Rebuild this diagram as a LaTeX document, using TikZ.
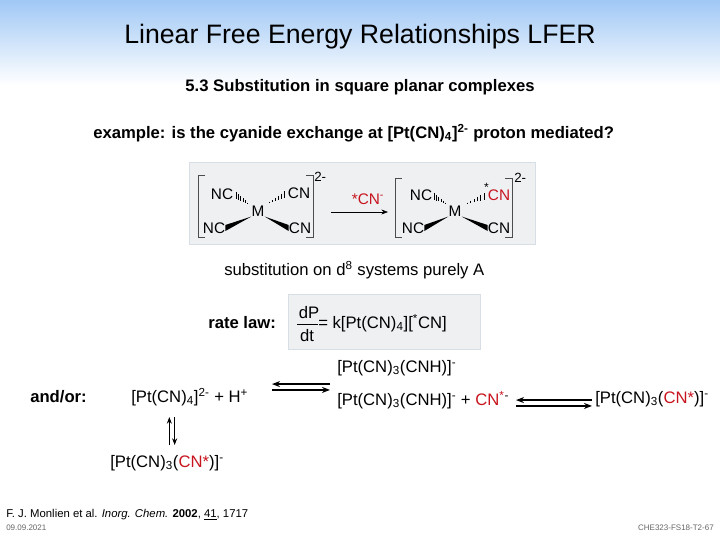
\documentclass[tikz,border=0pt]{standalone}
\usepackage{fontspec}
\setmainfont{Liberation Sans}
\usetikzlibrary{arrows.meta,calc}
\definecolor{topblue}{RGB}{160,200,245}
\definecolor{boxgray}{RGB}{238,240,242}
\definecolor{boxedge}{RGB}{215,222,230}
\definecolor{cnred}{RGB}{200,20,30}
\tikzset{
 txt/.style={inner sep=0pt,anchor=base west,font=\fontsize{12.5pt}{14pt}\selectfont},
 mol/.style={inner sep=0pt,font=\fontsize{11.5pt}{13pt}\selectfont},
 wedge/.style={fill=black},
 brk/.style={draw=black!70,line width=0.5pt},
 eq/.style={line width=1.3pt},
}
\begin{document}
\begin{tikzpicture}[x=0.75pt,y=-0.75pt]
\useasboundingbox (0,0) rectangle (720,540);
\fill[white] (0,0) rectangle (720,540);
\shade[top color=topblue,bottom color=white] (0,0) rectangle (720,85);
\node[inner sep=0pt,font=\fontsize{20pt}{22pt}\selectfont] (title) at (360,37) {Linear Free Energy Relationships LFER};
\node[inner sep=0pt,font=\bfseries\fontsize{12.5pt}{14pt}\selectfont] (sub) at (360,87) {5.3 Substitution in square planar complexes};
\node[txt,font=\bfseries\fontsize{12.5pt}{14pt}\selectfont] (ex) at (93,138) {example: is the cyanide exchange at [Pt(CN)\textsubscript{4}]\textsuperscript{2-} proton mediated?};
% molecule box
\node[fill=boxgray,draw=boxedge,minimum width=346pt*0.75,minimum height=82pt*0.75,inner sep=0pt] (molbox) at (362,203) {};
% left complex
\node[mol] (M1) at (258,211) {M};
\node[mol] (a1) at (222,194) {NC};
\node[mol] (b1) at (299,193) {CN};
\node[mol] (c1) at (214,228) {NC};
\node[mol] (d1) at (300,228) {CN};
\foreach \k in {0,...,6}{
 \draw[thin] ($(M1.north west)!{0.08+\k*0.13}!(a1.east)+(0,-{\k*0.55})$) -- ++(0,{\k*1.1});
 \draw[thin] ($(M1.north east)!{0.08+\k*0.13}!(b1.west)+(0,-{\k*0.55})$) -- ++(0,{\k*1.1});
}
\fill[wedge] (M1.south west) -- ($(c1.east)+(0,-3)$) -- ($(c1.east)+(0,3)$) -- cycle;
\fill[wedge] (M1.south east) -- ($(d1.west)+(0,-3)$) -- ($(d1.west)+(0,3)$) -- cycle;
\draw[brk] (205,175) -- (198,175) -- (198,237) -- (205,237);
\draw[brk] (306,175) -- (313,175) -- (313,237) -- (306,237);
\node[mol,anchor=west,font=\fontsize{10pt}{12pt}\selectfont] (ch1) at (314,177) {2-};
% arrow
\coordinate (ar1) at (331,212);
\coordinate (ar2) at (388,212);
\draw[-{Stealth[length=5pt]},thin] (ar1) -- (ar2);
\node[mol,text=cnred] (lab) at (368,199) {*CN\textsuperscript{-}};
% right complex
\node[mol] (M2) at (455,211) {M};
\node[mol] (a2) at (421,195) {NC};
\node[mol,text=cnred] (b2) at (499,195) {CN};
\node[mol,font=\fontsize{9pt}{10pt}\selectfont,anchor=south east] (st) at ([xshift=1pt,yshift=-2pt]b2.north west) {*};
\node[mol] (c2) at (413,228) {NC};
\node[mol] (d2) at (499,228) {CN};
\foreach \k in {0,...,6}{
 \draw[thin] ($(M2.north west)!{0.08+\k*0.13}!(a2.east)+(0,-{\k*0.55})$) -- ++(0,{\k*1.1});
 \draw[thin] ($(M2.north east)!{0.08+\k*0.13}!(b2.west)+(0,-{\k*0.55})$) -- ++(0,{\k*1.1});
}
\fill[wedge] (M2.south west) -- ($(c2.east)+(0,-3)$) -- ($(c2.east)+(0,3)$) -- cycle;
\fill[wedge] (M2.south east) -- ($(d2.west)+(0,-3)$) -- ($(d2.west)+(0,3)$) -- cycle;
\draw[brk] (402,178) -- (395,178) -- (395,237) -- (402,237);
\draw[brk] (505,178) -- (512,178) -- (512,237) -- (505,237);
\node[mol,anchor=west,font=\fontsize{10pt}{12pt}\selectfont] (ch2) at (514,178) {2-};
\node[txt] (subst) at (224,275) {substitution on d\textsuperscript{8} systems purely A};
% rate law
\node[fill=boxgray,draw=boxedge,minimum width=192pt*0.75,minimum height=55pt*0.75,inner sep=0pt] (ratebox) at (384,322) {};
\node[txt,font=\bfseries\fontsize{12.5pt}{14pt}\selectfont] (rl) at (208,328) {rate law:};
\node[mol,font=\fontsize{12.5pt}{14pt}\selectfont] (dP) at (309,313) {dP};
\node[mol,font=\fontsize{12.5pt}{14pt}\selectfont] (dt) at (307,336) {dt};
\draw[thin] (297,324) -- (318,324);
\node[txt] (rhs) at (318,328) {= k[Pt(CN)\textsubscript{4}][\textsuperscript{*}CN]};
% equilibria
\node[txt,font=\bfseries\fontsize{12.5pt}{14pt}\selectfont] (andor) at (30,402) {and/or:};
\node[txt] (r1) at (131,402) {[Pt(CN)\textsubscript{4}]\textsuperscript{2-} + H\textsuperscript{+}};
\node[txt] (p1) at (337,372) {[Pt(CN)\textsubscript{3}(CNH)]\textsuperscript{-}};
\coordinate (e1a) at (272,387); \coordinate (e1b) at (330,387);
\draw[eq,-{Stealth[length=6pt]}] ([yshift=-2.2pt]e1a) -- ([yshift=-2.2pt]e1b);
\draw[eq,-{Stealth[length=6pt]}] ([yshift=2.2pt]e1b) -- ([yshift=2.2pt]e1a);
\node[txt] (r2) at (337,405) {[Pt(CN)\textsubscript{3}(CNH)]\textsuperscript{-} + \textcolor{cnred}{CN\textsuperscript{*}}\textsuperscript{-}};
\coordinate (e2a) at (516,403); \coordinate (e2b) at (592,403);
\draw[eq,-{Stealth[length=6pt]}] ([yshift=-2.2pt]e2a) -- ([yshift=-2.2pt]e2b);
\draw[eq,-{Stealth[length=6pt]}] ([yshift=2.2pt]e2b) -- ([yshift=2.2pt]e2a);
\node[txt] (p2) at (595,403) {[Pt(CN)\textsubscript{3}(\textcolor{cnred}{CN*})]\textsuperscript{-}};
\coordinate (v1) at (172,417); \coordinate (v2) at (172,445);
\draw[line width=1.1pt,-{Stealth[length=5pt]}] ([xshift=-2pt]v2) -- ([xshift=-2pt]v1);
\draw[line width=1.1pt,-{Stealth[length=5pt]}] ([xshift=2pt]v1) -- ([xshift=2pt]v2);
\node[txt] (p3) at (110,467) {[Pt(CN)\textsubscript{3}(\textcolor{cnred}{CN*})]\textsuperscript{-}};
% footer
\node[txt,font=\fontsize{8.5pt}{10pt}\selectfont] (ref) at (6,517) {F. J. Monlien et al. \textit{Inorg. Chem.} \textbf{2002}, \underline{41}, 1717};
\node[txt,font=\fontsize{6pt}{7pt}\selectfont,text=black!60] (date) at (6,530) {09.09.2021};
\node[inner sep=0pt,anchor=base east,font=\fontsize{6pt}{7pt}\selectfont,text=black!60] (code) at (714,530) {CHE323-FS18-T2-67};
\end{tikzpicture}
\end{document}
